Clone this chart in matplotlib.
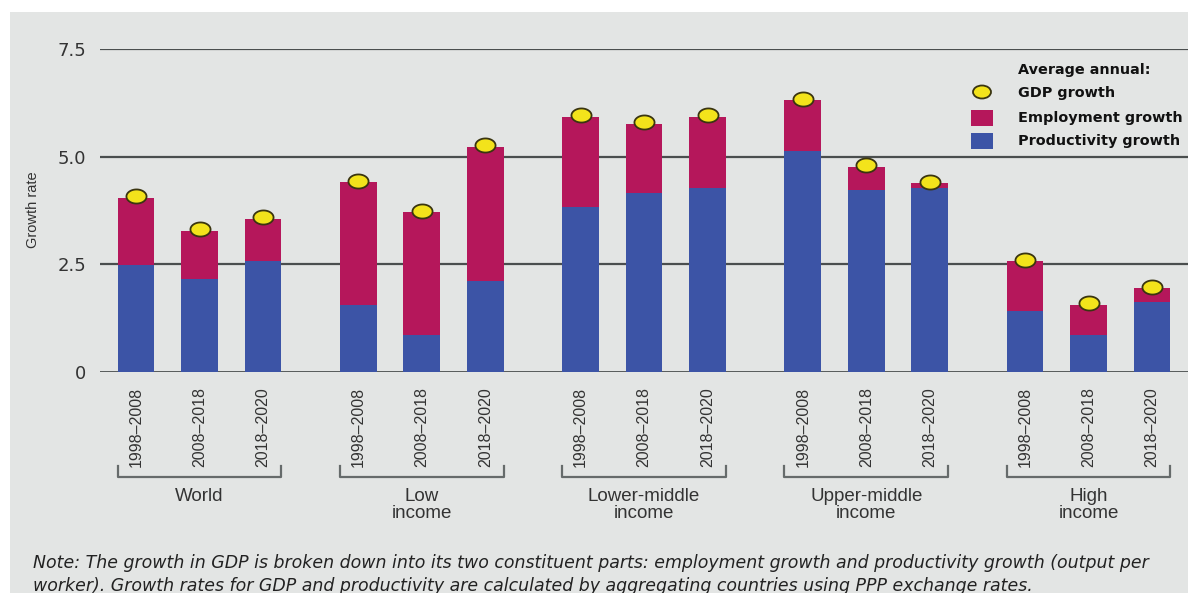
import matplotlib
matplotlib.use("Agg")
import matplotlib.pyplot as plt
from matplotlib.patches import Rectangle, Ellipse
from matplotlib.path import Path
from matplotlib.markers import MarkerStyle
import numpy as np

plt.rcParams['font.family'] = ['Liberation Sans', 'DejaVu Sans']

groups = ["World", "Low\nincome", "Lower-middle\nincome", "Upper-middle\nincome", "High\nincome"]
periods = ["1998–2008", "2008–2018", "2018–2020"]
productivity = [2.48, 2.16, 2.58,
                1.55, 0.86, 2.11,
                3.83, 4.15, 4.27,
                5.13, 4.22, 4.27,
                1.42, 0.86, 1.62]
employment = [1.57, 1.11, 0.97,
              2.86, 2.85, 3.11,
              2.09, 1.60, 1.65,
              1.18, 0.54, 0.12,
              1.16, 0.69, 0.33]
gdp = [4.08, 3.32, 3.60,
       4.43, 3.74, 5.27,
       5.96, 5.80, 5.96,
       6.33, 4.80, 4.41,
       2.60, 1.60, 1.97]
yticks = [0, 2.5, 5.0, 7.5]
ytick_labels = ["0", "2.5", "5.0", "7.5"]

BLUE = "#3c54a6"
RED = "#b5175b"
YEL = "#f3e31b"
BG = "#e3e5e4"

W, H = 1188, 593
fig = plt.figure(figsize=(W / 100, H / 100), dpi=100)
fig.patch.set_facecolor("white")
fig.add_artist(Rectangle((10 / W, 0), 1 - 10 / W, 1 - 12 / H, transform=fig.transFigure,
                         facecolor=BG, edgecolor="none", zorder=-10))

ax = fig.add_axes([100 / W, 1 - 372 / H, 1 - 100 / W, (372 - 49) / H])
ax.set_facecolor("none")
for s in ax.spines.values():
    s.set_visible(False)

x = np.array([g * 3.5 + j for g in range(len(groups)) for j in range(len(periods))])
bw = 0.58
ax.bar(x, productivity, width=bw, color=BLUE, zorder=3)
ax.bar(x, employment, width=bw, bottom=productivity, color=RED, zorder=3)

t = np.linspace(0, 2 * np.pi, 60)
ell = Path(np.column_stack([np.cos(t), 0.7 * np.sin(t)]), closed=True)
ax.scatter(x, gdp, marker=MarkerStyle(ell), s=210, facecolor=YEL, edgecolor="#3a3510",
           linewidth=1.3, zorder=5, clip_on=False)

ax.set_xlim(-36 / 63.5, (W - 136) / 63.5)
ax.set_ylim(0, 7.5)
ax.set_yticks(yticks)
ax.set_yticklabels(ytick_labels, fontsize=13, color="#333333", family="DejaVu Sans")
ax.tick_params(axis="y", length=0, pad=10)
for yv in yticks:
    ax.axhline(yv, color="#4a4e4e", lw=1.6 if yv else 2.0, zorder=2)

ax.set_xticks(x)
ax.set_xticklabels(periods * len(groups), rotation=90, fontsize=11.5, color="#333333",
                   va="top")
ax.tick_params(axis="x", length=0, pad=11)

ax.set_ylabel("Growth rate", fontsize=10.5, color="#333333")
ax.yaxis.set_label_coords(-(100 - 40) / (W - 100), (372 - 210) / (372 - 49))

# group brackets and labels
for g, name in enumerate(groups):
    xl = x[g * 3] - bw / 2
    xr = x[g * 3 + 2] + bw / 2
    px_l = ax.transData.transform((xl, 0))[0] / W
    px_r = ax.transData.transform((xr, 0))[0] / W
    yb = 1 - 477 / H
    yt = 1 - 466 / H
    fig.add_artist(plt.Line2D([px_l, px_l, px_r, px_r], [yt, yb, yb, yt],
                              transform=fig.transFigure, color="#666b6b", lw=1.6))
    fig.text((px_l + px_r) / 2, 1 - 488 / H, name, ha="center", va="top", fontsize=13.5,
             color="#333333", linespacing=1.0)

# legend
lx = 1018 / W
lkw = dict(fontsize=10.4, fontweight="bold", va="center", color="#111111", family="DejaVu Sans")
fig.text(lx, 1 - 70 / H, "Average annual:", **lkw)
fig.add_artist(Ellipse((982 / W, 1 - 92 / H), 18 / W, 13 / H, transform=fig.transFigure,
                       facecolor=YEL, edgecolor="#3a3510", lw=1.3))
fig.add_artist(Rectangle((971 / W, 1 - 126 / H), 22 / W, 16 / H, transform=fig.transFigure,
                         facecolor=RED, edgecolor="none"))
fig.add_artist(Rectangle((971 / W, 1 - 149 / H), 22 / W, 16 / H, transform=fig.transFigure,
                         facecolor=BLUE, edgecolor="none"))
fig.text(lx, 1 - 93 / H, "GDP growth", **lkw)
fig.text(lx, 1 - 118 / H, "Employment growth", **lkw)
fig.text(lx, 1 - 141 / H, "Productivity growth", **lkw)

# note
nkw = dict(fontsize=12.5, style="italic", va="center", color="#222222", family="DejaVu Sans")
fig.text(33 / W, 1 - 563 / H,
         "Note: The growth in GDP is broken down into its two constituent parts: employment growth and productivity growth (output per",
         **nkw)
fig.text(33 / W, 1 - 586 / H,
         "worker). Growth rates for GDP and productivity are calculated by aggregating countries using PPP exchange rates.",
         **nkw)

fig.savefig("out.png", dpi=100, facecolor=fig.get_facecolor())
